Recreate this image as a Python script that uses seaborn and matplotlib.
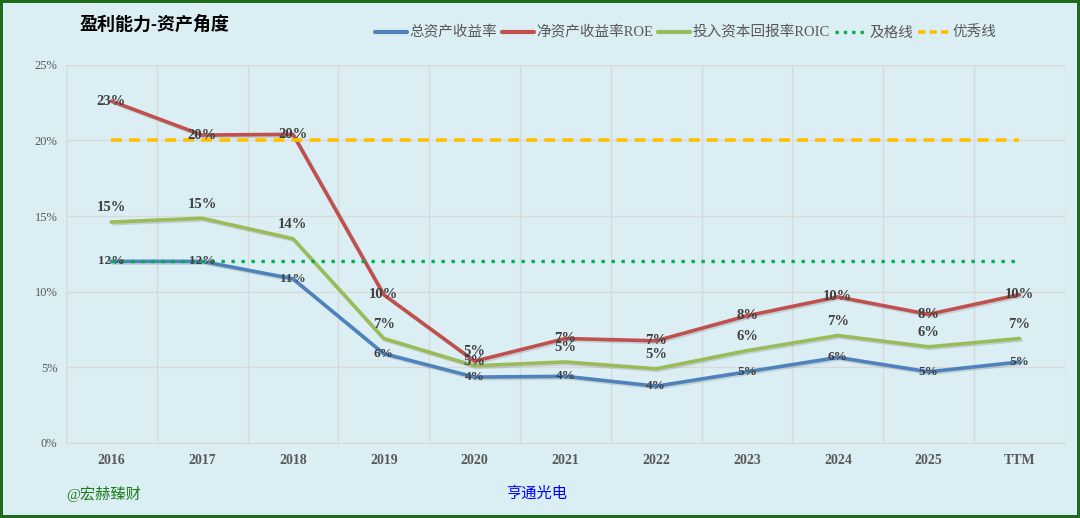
import numpy as np
import pandas as pd
import matplotlib.pyplot as plt
import matplotlib.patheffects as pe
import seaborn as sns

years = ['2016', '2017', '2018', '2019', '2020', '2021', '2022', '2023', '2024', '2025', 'TTM']
roa = [12.0, 12.0, 10.85, 5.9, 4.35, 4.4, 3.75, 4.7, 5.65, 4.7, 5.35]
roe = [22.6, 20.35, 20.4, 9.8, 5.4, 6.9, 6.75, 8.4, 9.65, 8.5, 9.8]
roic = [14.6, 14.85, 13.5, 6.9, 5.1, 5.35, 4.9, 6.1, 7.1, 6.35, 6.9]
pass_line = 12
good_line = 20

names = ['总资产收益率', '净资产收益率ROE', '投入资本回报率ROIC']
colors = ['#4F81BD', '#C0504D', '#9BBB59']

sns.set_style('white')
plt.rcParams['font.family'] = ['Liberation Serif', 'Noto Sans CJK SC']

rows = []
for name, vals in zip(names, [roa, roe, roic]):
    for i, v in enumerate(vals):
        rows.append({'pos': i, 'val': v, 'series': name})
df = pd.DataFrame(rows)

fig = plt.figure(figsize=(10.8, 5.18), dpi=100)
fig.patch.set_facecolor('#DAEEF3')
fig.patch.set_edgecolor('#1E6B1E')
fig.patch.set_linewidth(3)
ax = fig.add_axes([0.061, 0.145, 0.925, 0.73])
ax.set_facecolor('#DAEEF3')

# light drop shadow like the office chart
shadow = [pe.SimpleLineShadow(offset=(1.2, -1.2), alpha=0.12), pe.Normal()]
sns.lineplot(data=df, x='pos', y='val', hue='series', hue_order=names,
             palette=colors, linewidth=2.6, ax=ax, legend=False)
for ln in ax.get_lines():
    ln.set_path_effects(shadow)

pos = np.arange(len(years))
ax.plot(pos, [pass_line] * len(pos), color='#00B050', linestyle=(0, (1, 2)), linewidth=2.4)
ax.plot(pos, [good_line] * len(pos), color='#FFC000', linestyle=(0, (3, 2)), linewidth=2.6)

lab_kw = dict(ha='center', fontweight='bold', color='#404040')
for i in pos:
    ax.text(i, roa[i], f'{roa[i]:.0f}%', va='center', fontsize=9.5, **lab_kw)
    ax.text(i, roe[i], f'{roe[i]:.0f}%', va='center', fontsize=10.5, **lab_kw)
    ax.text(i, roic[i] + 0.5, f'{roic[i]:.0f}%', va='bottom', fontsize=10.5, **lab_kw)

ax.set_xlim(-0.5, len(years) - 0.5)
ax.set_ylim(0, 25)
ax.set_xticks(pos)
ax.set_xticklabels(years, fontsize=10, fontweight='bold', color='#595959')
ax.set_xticks(np.arange(-0.5, len(years), 1), minor=True)
ax.set_yticks(range(0, 26, 5))
ax.set_yticklabels([f'{v}%' for v in range(0, 26, 5)], fontsize=9, color='#595959')
ax.tick_params(axis='x', which='both', length=0, pad=8)
ax.tick_params(axis='y', length=0, pad=6)
ax.grid(axis='y', color='#D9D9D9', linewidth=1)
ax.grid(axis='x', which='minor', color='#D9D9D9', linewidth=1)
ax.set_xlabel('')
ax.set_ylabel('')
for s in ['top', 'right', 'left']:
    ax.spines[s].set_visible(False)
ax.spines['bottom'].set_color('#D9D9D9')

fig.text(0.074, 0.952, '盈利能力-资产角度', fontsize=13, fontweight='bold', color='#000000', va='center')

handles = [plt.Line2D([], [], color=c, linewidth=3) for c in colors]
handles.append(plt.Line2D([], [], color='#00B050', linestyle=(0, (1, 1.5)), linewidth=2.4))
handles.append(plt.Line2D([], [], color='#FFC000', linestyle=(0, (2, 1.2)), linewidth=2.6))
fig.legend(handles, names + ['及格线', '优秀线'], loc='center right', bbox_to_anchor=(0.935, 0.937),
           ncol=5, frameon=False, fontsize=10.5, handlelength=2.2, handletextpad=0.2,
           columnspacing=0.3, labelcolor='#595959')

fig.text(0.061, 0.047, '@宏赫臻财', fontsize=11, color='#1E7B1E', va='center')
fig.text(0.497, 0.047, '亨通光电', fontsize=11, color='#0000FF', va='center', ha='center')

fig.savefig('out.png', dpi=100, facecolor=fig.get_facecolor(), edgecolor=fig.get_edgecolor())
